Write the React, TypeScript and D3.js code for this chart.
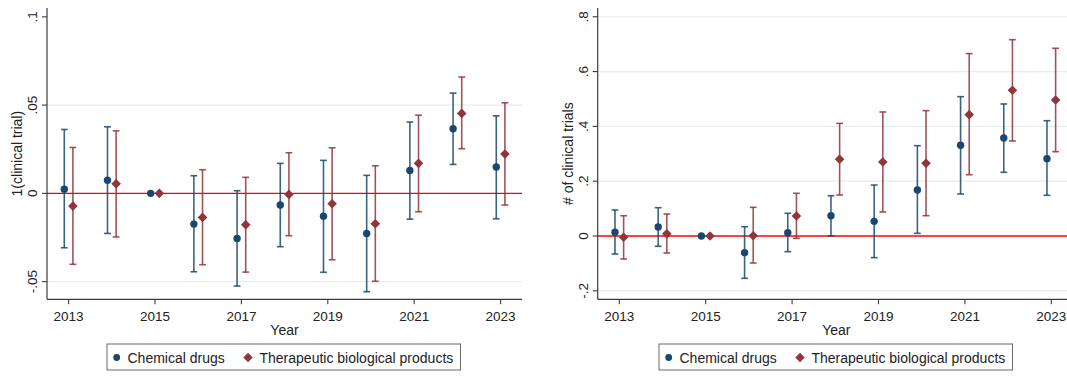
import React from "react";
import * as d3 from "d3";

// Event-study style coefficients by year, with 95% confidence bounds.
const years = [2013, 2014, 2015, 2016, 2017, 2018, 2019, 2020, 2021, 2022, 2023];
const xTickYears = [2013, 2015, 2017, 2019, 2021, 2023];

// Panel A: 1(clinical trial)
const chemA = [0.0024, 0.0074, 0, -0.0174, -0.0255, -0.0066, -0.0129, -0.0227, 0.013, 0.0366, 0.0149];
const chemALo = [-0.0308, -0.0227, 0, -0.0444, -0.0525, -0.0302, -0.0447, -0.0557, -0.0146, 0.0164, -0.0144];
const chemAHi = [0.0362, 0.0377, 0, 0.01, 0.0015, 0.017, 0.0187, 0.0102, 0.0404, 0.0568, 0.0439];
const bioA = [-0.0072, 0.0054, 0, -0.0136, -0.0178, -0.0006, -0.0059, -0.0172, 0.017, 0.0453, 0.0223];
const bioALo = [-0.0402, -0.0247, 0, -0.0404, -0.0446, -0.024, -0.0376, -0.0498, -0.0104, 0.0253, -0.0066];
const bioAHi = [0.026, 0.0354, 0, 0.0134, 0.0091, 0.023, 0.0258, 0.0156, 0.0443, 0.0659, 0.0513];
const yTicksA = [-0.05, 0, 0.05, 0.1];
const yTickLabelsA = ["-.05", "0", ".05", ".1"];

// Panel B: # of clinical trials
const chemB = [0.0135, 0.0328, 0, -0.0609, 0.012, 0.0741, 0.0535, 0.1679, 0.331, 0.3577, 0.2822];
const chemBLo = [-0.0657, -0.0376, 0, -0.1544, -0.0572, 0, -0.079, 0.0097, 0.1533, 0.2325, 0.1485];
const chemBHi = [0.0949, 0.1033, 0, 0.034, 0.0828, 0.147, 0.186, 0.3296, 0.5085, 0.4818, 0.4208];
const bioB = [-0.0047, 0.0084, 0, 0.0011, 0.073, 0.28, 0.27, 0.2653, 0.4428, 0.5318, 0.4964];
const bioBLo = [-0.0839, -0.062, 0, -0.0985, -0.0084, 0.1496, 0.0876, 0.0741, 0.2237, 0.3467, 0.3077];
const bioBHi = [0.074, 0.0803, 0, 0.1047, 0.1558, 0.411, 0.4526, 0.4574, 0.6655, 0.7165, 0.685];
const yTicksB = [-0.2, 0, 0.2, 0.4, 0.6, 0.8];
const yTickLabelsB = ["-.2", "0", ".2", ".4", ".6", ".8"];

const seriesNames = ["Chemical drugs", "Therapeutic biological products"];

const BLUE = "#1a476f";
const RED = "#90353b";
const FONT = "'Liberation Sans', Arial, sans-serif";

type Series = { v: number[]; lo: number[]; hi: number[]; color: string; shape: "circle" | "diamond"; dx: number };

function Marker({ shape, x, y, color, r }: { shape: string; x: number; y: number; color: string; r: number }) {
  if (shape === "circle") return <circle cx={x} cy={y} r={r} fill={color} />;
  const d = r * 1.3;
  return <path d={`M${x},${y - d}L${x + d},${y}L${x},${y + d}L${x - d},${y}Z`} fill={color} />;
}

function Panel(props: {
  left: number;
  right: number;
  top: number;
  bottom: number;
  yDomain: [number, number];
  yTicks: number[];
  yTickLabels: string[];
  gridTicks: number[];
  yTitle: string;
  series: Series[];
  legendX: number;
}) {
  const { left, right, top, bottom, yDomain, yTicks, yTickLabels, gridTicks, yTitle, series, legendX } = props;
  const x = d3.scaleLinear().domain([2012.5, 2023.5]).range([left, left + 11 * 43.2]);
  const y = d3.scaleLinear().domain(yDomain).range([bottom, top]);
  const capW = 3.4;
  const midY = (top + bottom) / 2;
  return (
    <g>
      {gridTicks.map((t) => (
        <line key={"g" + t} x1={left} x2={right} y1={y(t)} y2={y(t)} stroke="#e6eef0" strokeWidth={1.2} />
      ))}
      <line x1={left} x2={right} y1={y(0)} y2={y(0)} stroke="#ff0000" strokeWidth={1.3} />
      {series.map((s, si) =>
        years.map((yr, i) => {
          const cx = x(yr + s.dx);
          const hasCI = s.hi[i] !== s.lo[i];
          return (
            <g key={si + "-" + yr}>
              {hasCI && (
                <g stroke={s.color} strokeWidth={1.6} strokeOpacity={0.85}>
                  <line x1={cx} x2={cx} y1={y(s.hi[i])} y2={y(s.lo[i])} />
                  <line x1={cx - capW} x2={cx + capW} y1={y(s.hi[i])} y2={y(s.hi[i])} />
                  <line x1={cx - capW} x2={cx + capW} y1={y(s.lo[i])} y2={y(s.lo[i])} />
                </g>
              )}
              <Marker shape={s.shape} x={cx} y={y(s.v[i])} color={s.color} r={3.7} />
            </g>
          );
        })
      )}
      {/* axes */}
      <line x1={left} x2={left} y1={top} y2={bottom} stroke="#3c3c3c" strokeWidth={1.2} />
      <line x1={left} x2={right} y1={bottom} y2={bottom} stroke="#3c3c3c" strokeWidth={1.2} />
      {yTicks.map((t, i) => (
        <g key={"yt" + t}>
          <line x1={left - 5} x2={left} y1={y(t)} y2={y(t)} stroke="#3c3c3c" strokeWidth={1.1} />
          <text
            transform={`translate(${left - 10},${y(t)}) rotate(-90)`}
            textAnchor="middle"
            fontFamily={FONT}
            fontSize={13.5}
            fill="#222"
          >
            {yTickLabels[i]}
          </text>
        </g>
      ))}
      {xTickYears.map((t) => (
        <g key={"xt" + t}>
          <line x1={x(t)} x2={x(t)} y1={bottom} y2={bottom + 5} stroke="#3c3c3c" strokeWidth={1.1} />
          <text x={x(t)} y={bottom + 22} textAnchor="middle" fontFamily={FONT} fontSize={13.5} fill="#222">
            {t}
          </text>
        </g>
      ))}
      <text x={(left + right) / 2} y={bottom + 36} textAnchor="middle" fontFamily={FONT} fontSize={14} fill="#222">
        Year
      </text>
      <text
        transform={`translate(${left - 25},${midY}) rotate(-90)`}
        textAnchor="middle"
        fontFamily={FONT}
        fontSize={14}
        fill="#222"
      >
        {yTitle}
      </text>
      {/* legend */}
      <g>
        <rect x={legendX} y={344} width={353.5} height={26} fill="#fff" stroke="#6b6b6b" strokeWidth={1} />
        <Marker shape="circle" x={legendX + 9.7} y={357.5} color={BLUE} r={3.4} />
        <text x={legendX + 20.5} y={362.5} fontFamily={FONT} fontSize={14} fill="#222">
          {seriesNames[0]}
        </text>
        <Marker shape="diamond" x={legendX + 141} y={357.5} color={RED} r={3.6} />
        <text x={legendX + 152.5} y={362.5} fontFamily={FONT} fontSize={14} fill="#222">
          {seriesNames[1]}
        </text>
      </g>
    </g>
  );
}

export default function App() {
  const seriesA: Series[] = [
    { v: chemA, lo: chemALo, hi: chemAHi, color: BLUE, shape: "circle", dx: -0.1 },
    { v: bioA, lo: bioALo, hi: bioAHi, color: RED, shape: "diamond", dx: 0.1 },
  ];
  const seriesB: Series[] = [
    { v: chemB, lo: chemBLo, hi: chemBHi, color: BLUE, shape: "circle", dx: -0.1 },
    { v: bioB, lo: bioBLo, hi: bioBHi, color: RED, shape: "diamond", dx: 0.1 },
  ];
  return (
    <svg
      width={1067}
      height={380}
      style={{ position: "absolute", left: 0, top: 0, background: "#fff" }}
    >
      <rect width={1067} height={380} fill="#fff" />
      <Panel
        left={47}
        right={522}
        top={8}
        bottom={299.3}
        yDomain={[-0.06, 0.105]}
        yTicks={yTicksA}
        yTickLabels={yTickLabelsA}
        gridTicks={[-0.05, 0.05]}
        yTitle="1(clinical trial)"
        series={seriesA}
        legendX={107}
      />
      <Panel
        left={597.7}
        right={1075}
        top={8}
        bottom={299.3}
        yDomain={[-0.231, 0.832]}
        yTicks={yTicksB}
        yTickLabels={yTickLabelsB}
        gridTicks={[-0.2, 0.2, 0.4, 0.6, 0.8]}
        yTitle="# of clinical trials"
        series={seriesB}
        legendX={659}
      />
    </svg>
  );
}
